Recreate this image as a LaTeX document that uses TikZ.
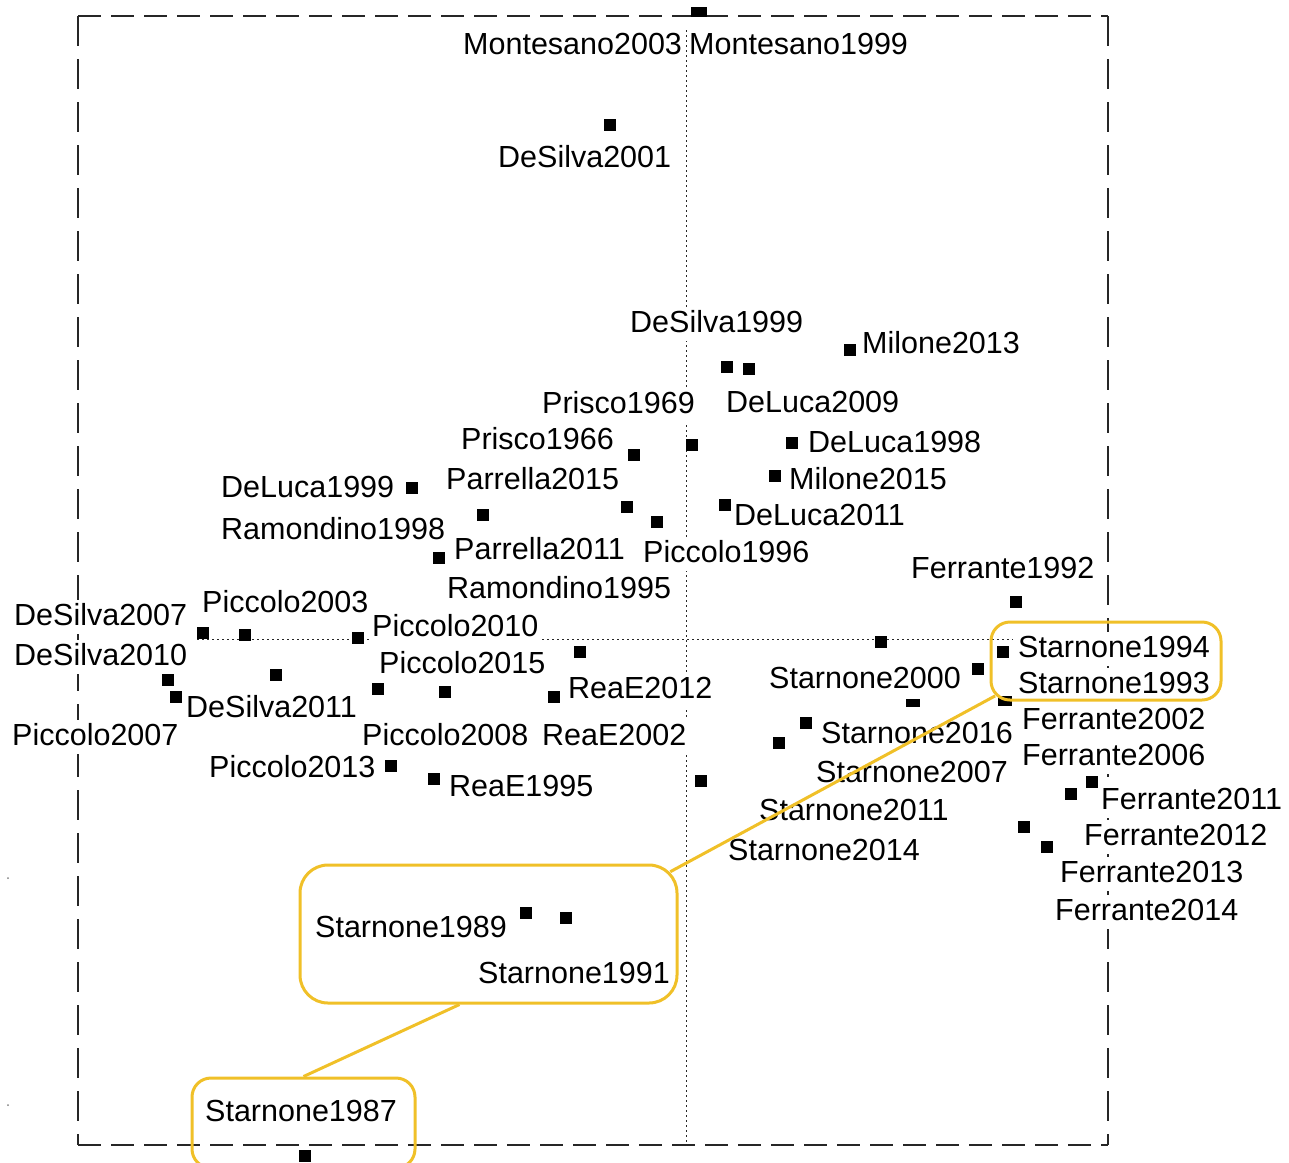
\documentclass[tikz,border=0pt]{standalone}
\usepackage{fontspec}
\setmainfont{Liberation Sans}
\definecolor{gold}{RGB}{240,192,40}
\tikzset{
  sq/.style={rectangle, fill=black, draw=none, inner sep=0pt, minimum size=12pt},
  lbl/.style={anchor=base west, fill=white, inner xsep=1pt, inner ysep=2pt,
              text height=23pt, text depth=7pt, font=\fontsize{30.5}{36}\selectfont},
  ybox/.style={rectangle, draw=gold, line width=3pt, rounded corners=19pt, inner sep=0pt},
  yline/.style={draw=gold, line width=3pt},
  framel/.style={line width=1.3pt, draw=black!85},
  axisl/.style={line width=1pt, draw=black!85, dash pattern=on 2pt off 3pt},
}
\begin{document}
\begin{tikzpicture}[x=1pt,y=-1pt]
\useasboundingbox (0,0) rectangle (1289,1162);
% frame
\draw[framel, dash pattern=on 23pt off 10pt] (78,16) -- (1108,16);
\draw[framel, dash pattern=on 23pt off 10pt] (78,1145) -- (1108,1145);
\draw[framel, dash pattern=on 30pt off 13pt] (78,16) -- (78,1145);
\draw[framel, dash pattern=on 30pt off 13pt] (1108,16) -- (1108,1145);
% axes
\draw[axisl] (686,30) -- (686,1145);
\draw[axisl] (197,639) -- (1013,639);
% tiny ticks
\fill[black!50] (8,878) circle (1pt);
\fill[black!50] (8,1105) circle (1pt);
% points
\node[sq, minimum width=16pt, minimum height=10pt] (p1) at (699,12) {};
\node[sq] (p2) at (610,125) {};
\node[sq] (p3) at (727,367) {};
\node[sq] (p4) at (749,369) {};
\node[sq] (p5) at (850,350) {};
\node[sq] (p6) at (692,445) {};
\node[sq] (p7) at (634,455) {};
\node[sq] (p8) at (792,443) {};
\node[sq] (p9) at (775,476) {};
\node[sq] (p10) at (412,488) {};
\node[sq] (p11) at (483,515) {};
\node[sq] (p12) at (627,507) {};
\node[sq] (p13) at (657,522) {};
\node[sq] (p14) at (725,505) {};
\node[sq] (p15) at (439,558) {};
\node[sq] (p16) at (1016,602) {};
\node[sq] (p17) at (203,633) {};
\node[sq] (p18) at (245,635) {};
\node[sq] (p19) at (358,638) {};
\node[sq] (p20) at (580,652) {};
\node[sq] (p21) at (881,642) {};
\node[sq] (p22) at (1003,652) {};
\node[sq] (p23) at (978,669) {};
\node[sq, minimum width=14pt, minimum height=8pt] (p24) at (913,703) {};
\node[sq, minimum width=14pt, minimum height=10pt] (p25) at (1005,701) {};
\node[sq] (p26) at (168,680) {};
\node[sq] (p27) at (176,697) {};
\node[sq] (p28) at (276,675) {};
\node[sq] (p29) at (378,689) {};
\node[sq] (p30) at (445,692) {};
\node[sq] (p31) at (554,697) {};
\node[sq] (p32) at (806,723) {};
\node[sq] (p33) at (779,743) {};
\node[sq] (p34) at (391,766) {};
\node[sq] (p35) at (434,779) {};
\node[sq] (p36) at (701,781) {};
\node[sq] (p37) at (1092,782) {};
\node[sq] (p38) at (1071,794) {};
\node[sq] (p39) at (1024,827) {};
\node[sq] (p40) at (1047,847) {};
\node[sq] (p41) at (526,913) {};
\node[sq] (p42) at (566,918) {};
\node[sq] (p43) at (305,1156) {};
% labels
\node[lbl] (l1) at (462,54) {Montesano2003};
\node[lbl] (l2) at (688,54) {Montesano1999};
\node[lbl] (l3) at (497,167) {DeSilva2001};
\node[lbl] (l4) at (629,332) {DeSilva1999};
\node[lbl] (l5) at (861,353) {Milone2013};
\node[lbl] (l6) at (541,413) {Prisco1969};
\node[lbl] (l7) at (725,412) {DeLuca2009};
\node[lbl] (l8) at (460,449) {Prisco1966};
\node[lbl] (l9) at (807,452) {DeLuca1998};
\node[lbl] (l10) at (445,489) {Parrella2015};
\node[lbl] (l11) at (788,489) {Milone2015};
\node[lbl] (l12) at (220,497) {DeLuca1999};
\node[lbl] (l13) at (733,525) {DeLuca2011};
\node[lbl] (l14) at (220,539) {Ramondino1998};
\node[lbl] (l15) at (453,559) {Parrella2011};
\node[lbl] (l16) at (642,562) {Piccolo1996};
\node[lbl] (l17) at (910,578) {Ferrante1992};
\node[lbl] (l18) at (446,598) {Ramondino1995};
\node[lbl] (l19) at (201,612) {Piccolo2003};
\node[lbl] (l20) at (13,625) {DeSilva2007};
\node[lbl] (l21) at (371,636) {Piccolo2010};
\node[lbl] (l22) at (1017,657) {Starnone1994};
\node[lbl] (l23) at (13,665) {DeSilva2010};
\node[lbl] (l24) at (378,673) {Piccolo2015};
\node[lbl] (l25) at (768,688) {Starnone2000};
\node[lbl] (l26) at (1017,693) {Starnone1993};
\node[lbl] (l27) at (567,698) {ReaE2012};
\node[lbl] (l28) at (185,717) {DeSilva2011};
\node[lbl] (l29) at (1021,729) {Ferrante2002};
\node[lbl] (l30) at (820,743) {Starnone2016};
\node[lbl] (l31) at (11,745) {Piccolo2007};
\node[lbl] (l32) at (361,745) {Piccolo2008};
\node[lbl] (l33) at (541,745) {ReaE2002};
\node[lbl] (l34) at (1021,765) {Ferrante2006};
\node[lbl] (l35) at (208,777) {Piccolo2013};
\node[lbl] (l36) at (815,782) {Starnone2007};
\node[lbl] (l37) at (448,796) {ReaE1995};
\node[lbl] (l38) at (1100,809) {Ferrante2011};
\node[lbl] (l39) at (758,820) {Starnone2011};
\node[lbl] (l40) at (1083,845) {Ferrante2012};
\node[lbl] (l41) at (727,860) {Starnone2014};
\node[lbl] (l42) at (1059,882) {Ferrante2013};
\node[lbl] (l43) at (1054,920) {Ferrante2014};
\node[lbl] (l44) at (314,937) {Starnone1989};
\node[lbl] (l45) at (477,983) {Starnone1991};
\node[lbl] (l46) at (204,1121) {Starnone1987};
% yellow callouts
\node[ybox, minimum width=230pt, minimum height=78pt] (bA) at (1106,661) {};
\node[ybox, rounded corners=28pt, minimum width=377pt, minimum height=138pt] (bB) at (488.5,934) {};
\node[ybox, minimum width=223pt, minimum height=90pt] (bC) at (303.5,1123) {};
\draw[yline] ([xshift=5.6pt,yshift=5.6pt]bA.south west) -- ([xshift=-8.2pt,yshift=-8.2pt]bB.north east);
\draw[yline] ([xshift=-29pt]bB.south) -- (bC.north);
\end{tikzpicture}
\end{document}
